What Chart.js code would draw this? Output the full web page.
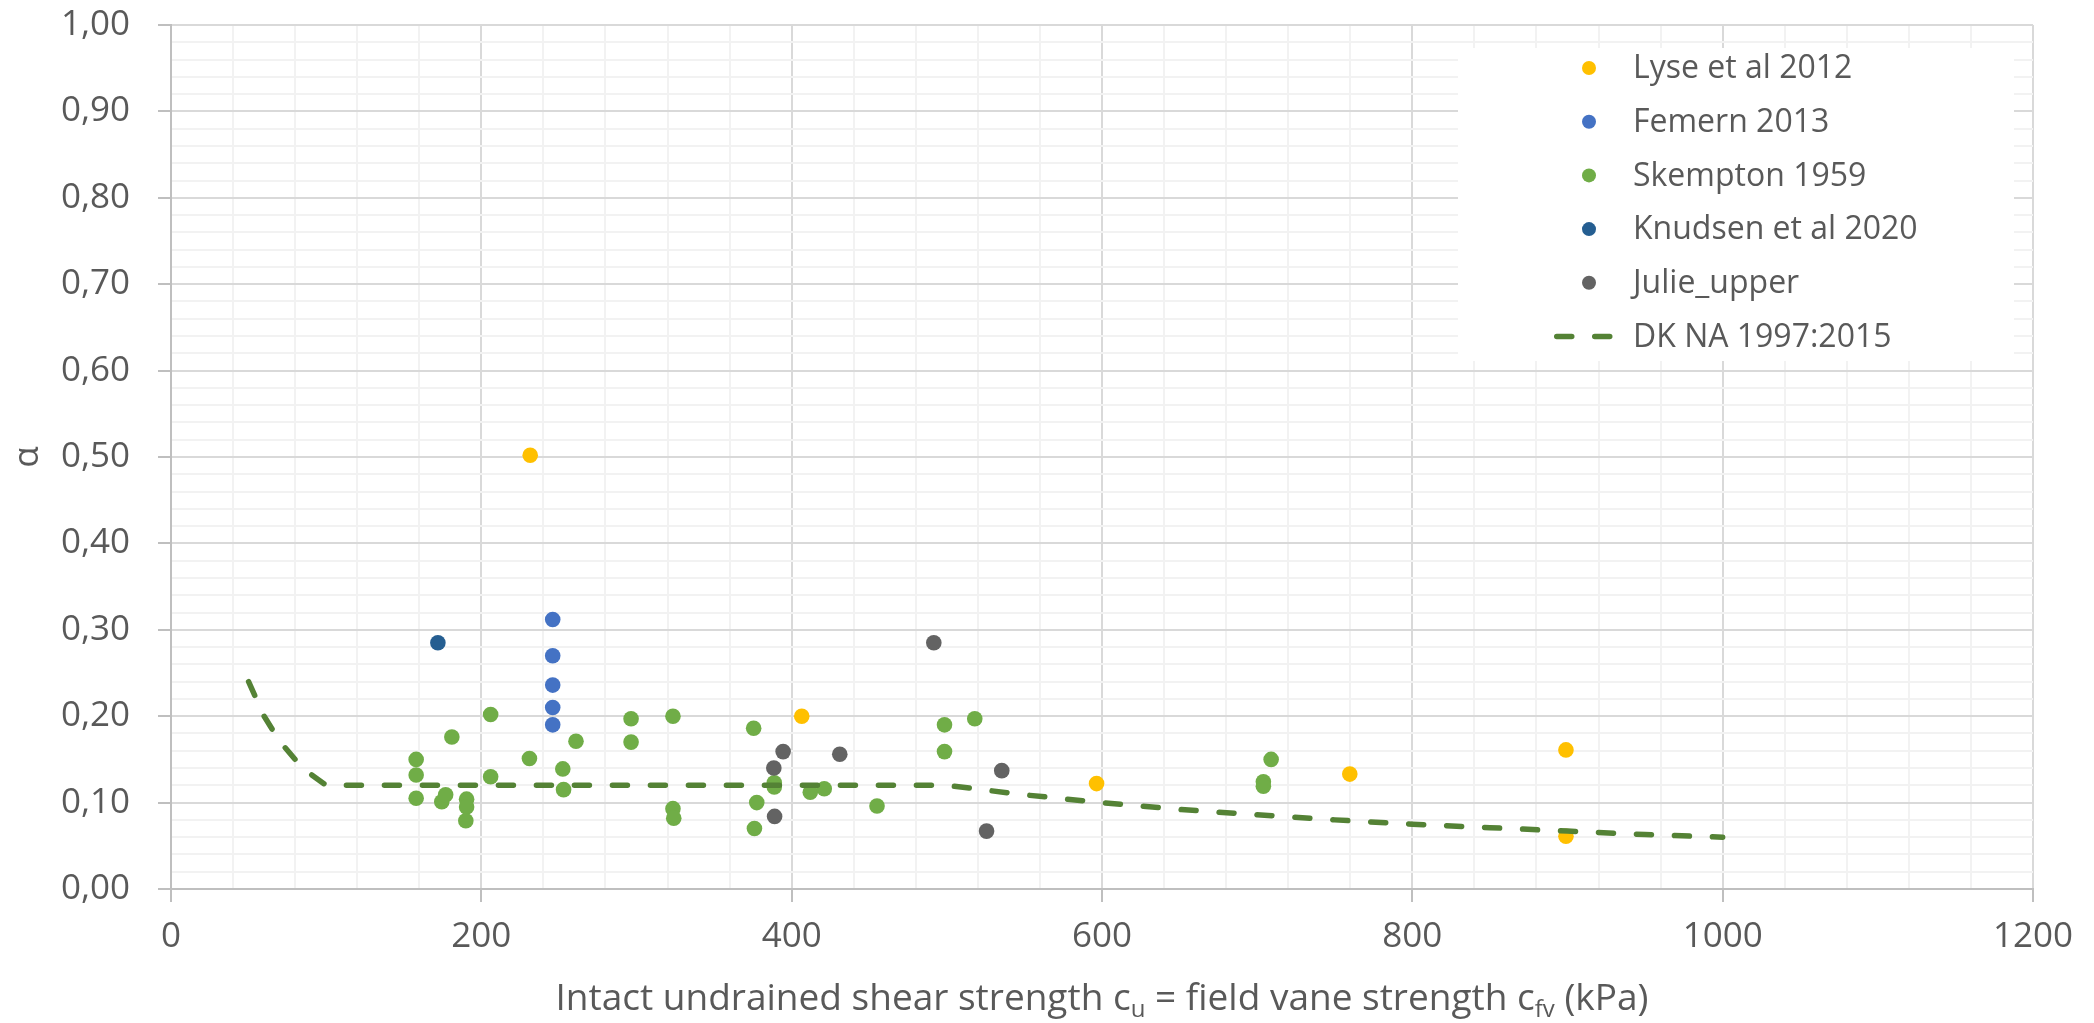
<!DOCTYPE html>
<html>
<head>
<meta charset="utf-8">
<script src="https://cdn.jsdelivr.net/npm/chart.js@4.4.1/dist/chart.umd.min.js"></script>
<style>
  html, body { margin: 0; padding: 0; background: #ffffff; }
  #wrap { width: 2094px; height: 1023px; }
</style>
</head>
<body>
<div id="wrap"><canvas id="c" width="2094" height="1023"></canvas></div>
<script>
// ---- Data: cu (kPa) and alpha for each series ----
const lyseX = [231.5, 406.5, 596.5, 759.7, 899, 899];
const lyseY = [0.502, 0.200, 0.122, 0.133, 0.161, 0.061];

const femernX = [246, 246, 246, 246, 246];
const femernY = [0.312, 0.270, 0.236, 0.210, 0.190];

const skemptonX = [158, 158, 158, 174.5, 177, 181, 190.5, 190.5, 190, 206, 206, 231, 252.5, 253, 261,
                   296.5, 296.5, 323.5, 323.5, 324, 375.5, 377.5, 376, 388.8, 388.8, 412, 421, 455,
                   498.5, 498.5, 518, 704, 704, 709];
const skemptonY = [0.150, 0.132, 0.105, 0.101, 0.109, 0.176, 0.104, 0.095, 0.079, 0.202, 0.130, 0.151, 0.139, 0.115, 0.171,
                   0.197, 0.170, 0.200, 0.093, 0.082, 0.186, 0.100, 0.070, 0.123, 0.118, 0.112, 0.116, 0.096,
                   0.190, 0.159, 0.197, 0.124, 0.119, 0.150];

const knudsenX = [172];
const knudsenY = [0.285];

const julieX = [388.5, 389, 394.5, 431, 491.6, 525.6, 535.4];
const julieY = [0.140, 0.084, 0.159, 0.156, 0.285, 0.067, 0.137];

// DK NA 1997:2015 design curve
const dkX = [50, 60, 70, 80, 90, 100, 500, 550, 600, 650, 700, 750, 800, 850, 900, 950, 1000];
const dkY = [0.240, 0.200, 0.171, 0.150, 0.133, 0.120, 0.120, 0.109, 0.100, 0.092, 0.086, 0.080, 0.075, 0.071, 0.067, 0.063, 0.060];

const seriesNames = ['Lyse et al 2012', 'Femern 2013', 'Skempton 1959', 'Knudsen et al 2020', 'Julie_upper', 'DK NA 1997:2015'];

// Axis ranges and label steps
const xMin = 0, xMax = 1200, xMajor = 200, xMinor = 40;
const yMin = 0, yMax = 1, yMajor = 0.1, yMinor = 0.02;

const xTitleParts = [
  ['Intact undrained shear strength c', false],
  ['u', true],
  [' = field vane strength c', false],
  ['fv', true],
  [' (kPa)', false]
];
const yTitle = 'α';

// ---- Styling ----
const FONT = '"Open Sans", "Noto Sans", sans-serif';
const TEXT = '#595959';
const MAJOR = '#d9d9d9';
const MINOR = '#f2f2f2';
const AXIS = '#bfbfbf';

const pts = (xs, ys) => xs.map((x, i) => ({ x, y: ys[i] }));

function scatterSet(label, xs, ys, color, order) {
  return {
    label, data: pts(xs, ys), order,
    backgroundColor: color, borderColor: color,
    pointRadius: 7.8, pointHoverRadius: 7.8, borderWidth: 0,
    showLine: false
  };
}

const datasets = [
  scatterSet(seriesNames[0], lyseX, lyseY, '#FFC000', 5),
  scatterSet(seriesNames[1], femernX, femernY, '#4472C4', 4),
  scatterSet(seriesNames[2], skemptonX, skemptonY, '#70AD47', 3),
  scatterSet(seriesNames[3], knudsenX, knudsenY, '#255E91', 2),
  scatterSet(seriesNames[4], julieX, julieY, '#636363', 1),
  {
    label: seriesNames[5], data: pts(dkX, dkY), order: 0,
    showLine: true, pointRadius: 0, pointHoverRadius: 0,
    borderColor: '#548235', backgroundColor: '#548235',
    borderWidth: 5.5, borderDash: [15, 23], borderCapStyle: 'round',
    borderJoinStyle: 'round', tension: 0, fill: false
  }
];

const isMajorX = v => Math.round(v) % xMajor === 0;
const isMajorY = v => Math.round(v * 100) % Math.round(yMajor * 100) === 0;

// Legend box drawn inside the plot area, top right
const insideLegend = {
  id: 'insideLegend',
  afterDraw(chart) {
    const c = chart.ctx;
    const box = { x: 1458, y: 48, w: 556, h: 313 };
    c.save();
    c.fillStyle = '#ffffff';
    c.fillRect(box.x, box.y, box.w, box.h);
    const rowH = 53.7, firstY = 68, markX = 1589, textX = 1633;
    c.font = '32px ' + FONT;
    c.textBaseline = 'middle';
    c.textAlign = 'left';
    chart.data.datasets.forEach((ds, i) => {
      const y = firstY + i * rowH;
      if (ds.showLine) {
        c.strokeStyle = ds.borderColor;
        c.lineWidth = ds.borderWidth;
        c.lineCap = 'round';
        c.setLineDash(ds.borderDash);
        c.beginPath();
        c.moveTo(1556.75, y);
        c.lineTo(1612, y);
        c.stroke();
        c.setLineDash([]);
      } else {
        c.fillStyle = ds.backgroundColor;
        c.beginPath();
        c.arc(markX, y, 7, 0, Math.PI * 2);
        c.fill();
      }
      c.fillStyle = TEXT;
      c.fillText(ds.label, textX, y + 1);
    });
    c.restore();
  }
};

// X axis title with subscripts
const xTitle = {
  id: 'xTitle',
  afterDraw(chart) {
    const c = chart.ctx;
    const a = chart.chartArea;
    const big = '37px ' + FONT, small = '24px ' + FONT;
    c.save();
    c.fillStyle = TEXT;
    c.textBaseline = 'alphabetic';
    c.textAlign = 'left';
    let total = 0;
    xTitleParts.forEach(([t, sub]) => { c.font = sub ? small : big; total += c.measureText(t).width; });
    let x = (a.left + a.right) / 2 - total / 2;
    const base = 1010;
    xTitleParts.forEach(([t, sub]) => {
      c.font = sub ? small : big;
      c.fillText(t, x, sub ? base + 7 : base);
      x += c.measureText(t).width;
    });
    c.restore();
  }
};

new Chart(document.getElementById('c'), {
  type: 'scatter',
  data: { datasets },
  plugins: [insideLegend, xTitle],
  options: {
    responsive: false,
    devicePixelRatio: 1,
    animation: false,
    events: [],
    layout: { padding: { top: 25, right: 61, left: 0, bottom: 0 } },
    plugins: { legend: { display: false }, tooltip: { enabled: false } },
    scales: {
      x: {
        type: 'linear', min: xMin, max: xMax,
        afterFit: s => { s.height = 134; },
        ticks: {
          stepSize: xMinor, autoSkip: false, maxRotation: 0, minRotation: 0,
          padding: 14, color: TEXT, font: { family: FONT, size: 35 },
          callback: v => isMajorX(v) ? String(v) : ''
        },
        grid: {
          color: c => isMajorX(c.tick.value) ? MAJOR : MINOR,
          lineWidth: 2,
          tickLength: 13,
          tickColor: c => isMajorX(c.tick.value) ? AXIS : 'rgba(0,0,0,0)',
          tickWidth: 2
        },
        border: { color: AXIS, width: 2 }
      },
      y: {
        type: 'linear', min: yMin, max: yMax,
        afterFit: s => { s.width = 171; s.paddingTop = 0; s.paddingBottom = 0; },
        title: { display: true, text: yTitle, color: TEXT, font: { family: FONT, size: 35 }, padding: { top: 7, bottom: 0 } },
        ticks: {
          stepSize: yMinor, autoSkip: false, padding: 28, color: TEXT, font: { family: FONT, size: 35 },
          callback: v => isMajorY(v) ? v.toFixed(2).replace('.', ',') : ''
        },
        grid: {
          color: c => isMajorY(c.tick.value) ? MAJOR : MINOR,
          lineWidth: 2,
          tickLength: 13,
          tickColor: c => isMajorY(c.tick.value) ? AXIS : 'rgba(0,0,0,0)',
          tickWidth: 2
        },
        border: { color: AXIS, width: 2 }
      }
    }
  }
});
</script>
</body>
</html>
